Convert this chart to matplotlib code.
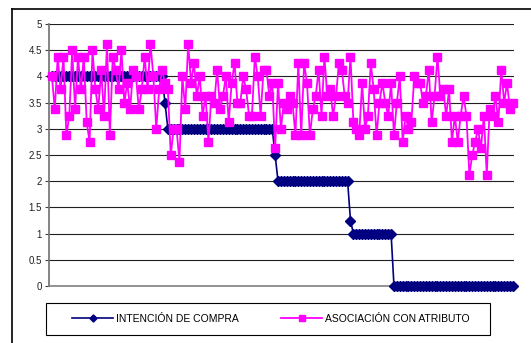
import matplotlib
matplotlib.use("Agg")
import matplotlib.pyplot as plt
from matplotlib.lines import Line2D
from matplotlib.patches import Rectangle

plt.rcParams['font.family'] = ['Liberation Sans', 'DejaVu Sans']

# Series values, one per respondent (sorted by purchase intention)
intencion = [4] * 39 + [3.5] + [3] * 37 + [2.5] + [2] * 25 + [1.25] + [1] * 14 + [0] * 42

asociacion = [
    4.0, 3.375, 4.375, 3.75, 4.375, 2.875, 3.25, 4.5, 3.375, 4.375,
    3.75, 4.375, 3.125, 2.75, 4.5, 3.75, 3.375, 4.125, 3.25, 4.625,
    2.875, 4.375, 4.125, 3.75, 4.5, 3.5, 3.875, 3.375, 4.125, 4.0,
    3.375, 3.75, 4.375, 3.75, 4.625, 4.0, 3.0, 3.75, 4.125, 3.875,
    3.75, 2.5, 3.0, 3.0, 2.375, 4.0, 3.375, 4.625, 3.875, 4.25,
    3.625, 4.0, 3.25, 3.625, 2.75, 3.625, 3.5, 4.125, 3.375, 3.625,
    4.0, 3.125, 3.875, 4.25, 3.5, 3.5, 4.0, 3.75, 3.25, 3.25,
    4.375, 4.0, 3.25, 4.125, 4.125, 3.625, 3.875, 2.625, 3.875, 3.0,
    3.5, 3.375, 3.625, 3.5, 2.875, 4.25, 2.875, 4.25, 3.875, 2.875,
    3.375, 3.625, 4.125, 3.25, 4.375, 3.625, 3.75, 3.25, 3.625, 4.25,
    4.125, 3.625, 3.5, 4.375, 3.125, 3.0, 2.875, 3.875, 3.0, 3.25,
    4.25, 3.75, 2.875, 3.5, 3.875, 3.5, 3.25, 3.875, 2.875, 3.5,
    4.0, 2.75, 3.25, 3.0, 3.125, 4.0, 3.875, 3.875, 3.5, 3.625,
    4.125, 3.125, 3.625, 4.375, 3.625, 3.75, 3.25, 3.75, 2.75, 3.25,
    2.75, 3.25, 3.625, 3.25, 2.125, 2.5, 2.75, 3.0, 2.625, 3.25,
    2.125, 3.375, 3.25, 3.625, 3.125, 4.125, 3.5, 3.875, 3.375, 3.5,
]

y_ticks = [0, 0.5, 1, 1.5, 2, 2.5, 3, 3.5, 4, 4.5, 5]
y_labels = ['0', '0.5', '1', '1.5', '2', '2.5', '3', '3.5', '4', '4.5', '5']
series_names = ['INTENCIÓN DE COMPRA', 'ASOCIACIÓN CON ATRIBUTO']

W, H = 531, 343
fig = plt.figure(figsize=(W / 100, H / 100), dpi=100)
ax = fig.add_axes([49 / W, 1 - 286 / H, (514 - 49) / W, (286 - 24) / H])

x = list(range(len(intencion)))
ax.plot(x, intencion, color='#000080', marker='D', ms=4.8, lw=1.2,
        label=series_names[0], clip_on=False, zorder=3)
ax.plot(x, asociacion, color='#FF00FF', marker='s', ms=5.9, lw=1.3,
        label=series_names[1], clip_on=False, zorder=4)

ax.set_ylim(0, 5)
ax.set_xlim(-1, len(x) - 0.6)
ax.set_yticks(y_ticks)
ax.set_yticklabels(y_labels, fontsize=7, color='#202020')
ax.set_xticks([])
ax.grid(axis='y', color='#202020', lw=0.8)
ax.set_axisbelow(True)

for side in ['top', 'right']:
    ax.spines[side].set_visible(False)
ax.spines['left'].set_color('#707070')
ax.spines['left'].set_linewidth(1.2)
ax.spines['bottom'].set_color('#808080')
ax.spines['bottom'].set_linewidth(1.2)
ax.tick_params(axis='y', length=3, width=0.8, color='#404040', pad=2)

# chart frame (left and top edges)
fig.add_artist(Line2D([12 / W, 12 / W], [0, 1 - 9 / H], color='black', lw=1.2,
                      transform=fig.transFigure))
fig.add_artist(Line2D([12 / W, 1], [1 - 9 / H, 1 - 9 / H], color='black', lw=1.2,
                      transform=fig.transFigure))

# legend box at the bottom
fig.add_artist(Rectangle((46 / W, 1 - 335 / H), 444 / W, 32 / H, fill=False,
                         edgecolor='black', lw=0.8, transform=fig.transFigure))
handles, labels = ax.get_legend_handles_labels()
fig.legend(handles, labels, loc='center', bbox_to_anchor=(271 / W, 1 - 319 / H),
           ncol=2, frameon=False, fontsize=7.5, handlelength=3.9,
           handletextpad=0.3, columnspacing=4.1, markerscale=0.75)

fig.savefig('out.png', dpi=100)
plt.close(fig)
